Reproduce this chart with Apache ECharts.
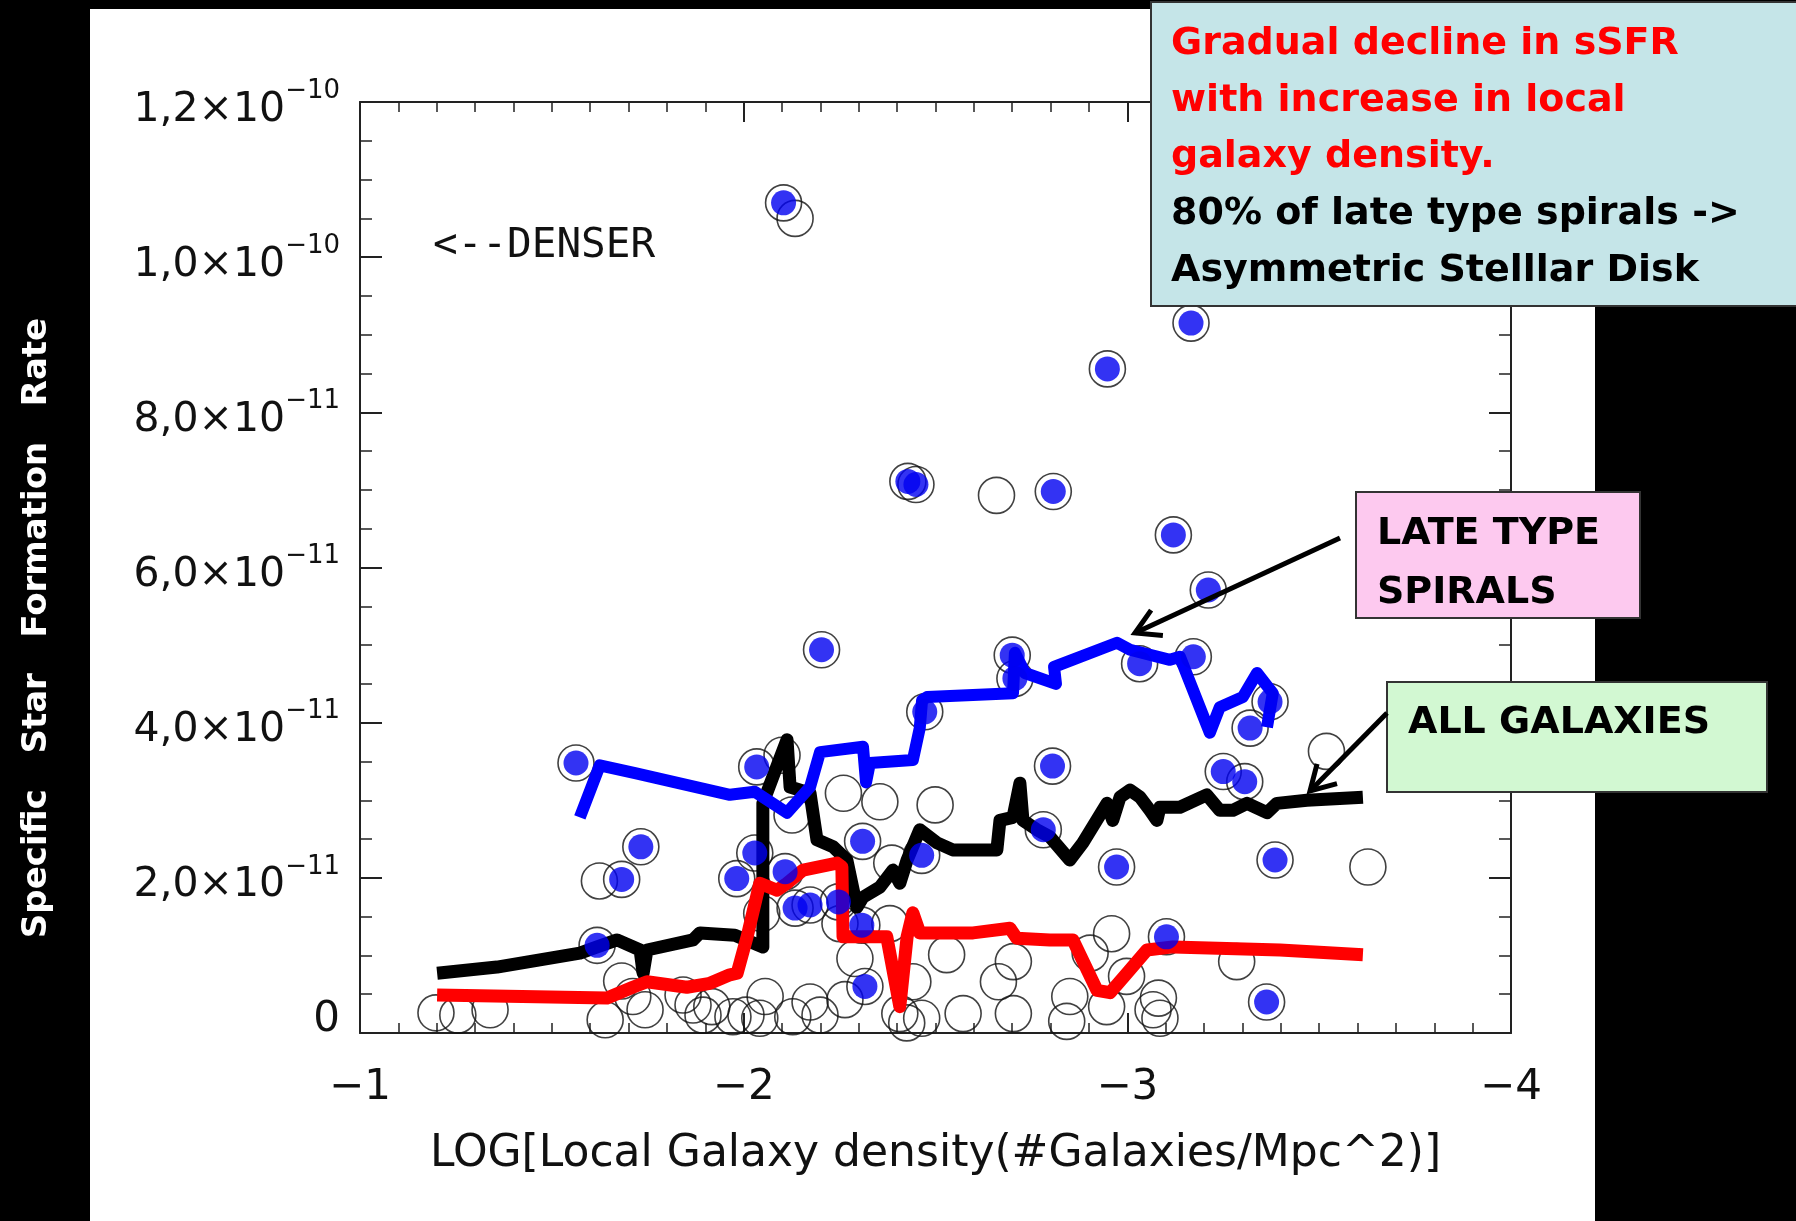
<!DOCTYPE html>
<html><head><meta charset="utf-8">
<script src="https://cdn.jsdelivr.net/npm/echarts@6.0.0/dist/echarts.min.js"></script>
<style>html,body{margin:0;padding:0;background:#000;}#c{width:1796px;height:1221px;}</style>
</head><body><div id="c"></div>
<script>
// x: LOG[local galaxy density], y: specific SFR in units of 1e-11
const xRange = [-4, -1];
const yRange = [0, 12];
const xTickLabels = ['−1', '−2', '−3', '−4'];

// open circles: all galaxies (not late type)
const allGalaxies = [
  [-2.134,10.50],[-2.659,6.93],[-3.519,3.63],[-3.627,2.14],[-2.100,3.58],[-2.126,2.81],
  [-2.260,3.09],[-2.355,2.98],[-2.499,2.94],[-1.624,1.96],[-2.386,2.19],[-2.047,1.54],
  [-2.381,1.41],[-2.251,1.41],[-2.290,0.96],[-2.529,1.01],[-2.703,0.92],[-2.664,0.66],
  [-2.441,0.66],[-2.056,0.47],[-2.173,0.40],[-2.264,0.43],[-1.972,0.21],[-2.042,0.19],
  [-2.128,0.21],[-2.199,0.23],[-2.407,0.25],[-2.425,0.13],[-2.464,0.19],[-2.572,0.25],
  [-2.703,0.25],[-2.959,1.28],[-3.285,0.92],[-2.903,1.03],[-2.998,0.73],[-2.850,0.47],
  [-2.946,0.34],[-3.081,0.45],[-3.067,0.30],[-2.842,0.15],[-3.085,0.19],[-1.198,0.26],
  [-1.255,0.23],[-1.339,0.30],[-1.682,0.67],[-1.711,0.47],[-1.639,0.17],[-1.743,0.30],
  [-1.868,0.36],[-1.917,0.34],[-1.842,0.49],[-1.894,0.23],[-2.006,0.23]
];
// filled blue: late type spirals
const lateSpirals = [
  [-2.104,10.70],[-2.948,8.56],[-3.166,9.15],[-2.428,7.11],[-2.449,7.07],[-2.807,6.98],
  [-3.120,6.42],[-3.211,5.71],[-2.203,4.94],[-2.700,4.87],[-2.707,4.57],[-3.032,4.76],
  [-3.172,4.85],[-3.372,4.27],[-3.320,3.93],[-2.472,4.14],[-1.563,3.48],[-2.034,3.43],
  [-2.805,3.44],[-3.250,3.37],[-3.306,3.24],[-1.732,2.40],[-2.310,2.47],[-2.781,2.62],
  [-1.682,1.98],[-2.029,2.32],[-1.982,1.99],[-2.108,2.08],[-2.972,2.14],[-3.385,2.23],
  [-2.464,2.29],[-2.134,1.61],[-2.173,1.65],[-2.247,1.69],[-2.308,1.39],[-1.618,1.13],
  [-3.102,1.24],[-2.316,0.60],[-3.363,0.40]
];
// running curves
const lateTrend = [
  [-1.573,2.78],[-1.625,3.45],[-1.717,3.35],[-1.964,3.07],[-2.029,3.11],[-2.113,2.84],
  [-2.173,3.17],[-2.199,3.62],[-2.311,3.69],[-2.319,3.23],[-2.329,3.48],[-2.441,3.52],
  [-2.459,3.93],[-2.465,4.29],[-2.478,4.33],[-2.702,4.38],[-2.707,4.90],[-2.733,4.64],
  [-2.814,4.50],[-2.809,4.72],[-2.973,5.03],[-3.007,4.94],[-3.111,4.81],[-3.137,4.85],
  [-3.215,3.87],[-3.241,4.20],[-3.301,4.33],[-3.338,4.64],[-3.379,4.38],[-3.364,3.94]
];
const allTrend = [
  [-1.201,0.77],[-1.357,0.85],[-1.573,1.03],[-1.618,1.11],[-1.670,1.20],[-1.730,1.07],
  [-1.738,0.77],[-1.748,1.07],[-1.868,1.20],[-1.886,1.29],[-1.977,1.26],[-2.050,1.11],
  [-2.050,2.96],[-2.076,3.30],[-2.113,3.78],[-2.121,3.17],[-2.173,3.09],[-2.191,2.49],
  [-2.233,2.40],[-2.269,2.23],[-2.295,1.62],[-2.311,1.75],[-2.355,1.88],[-2.389,2.10],
  [-2.407,1.93],[-2.426,2.23],[-2.459,2.62],[-2.504,2.45],[-2.545,2.36],[-2.660,2.36],
  [-2.668,2.74],[-2.702,2.78],[-2.720,3.22],[-2.728,2.74],[-2.764,2.62],[-2.798,2.53],
  [-2.850,2.23],[-2.884,2.45],[-2.947,2.96],[-2.962,2.74],[-2.981,3.04],[-3.007,3.13],
  [-3.033,3.04],[-3.059,2.87],[-3.077,2.74],[-3.085,2.91],[-3.137,2.91],[-3.207,3.07],
  [-3.241,2.87],[-3.275,2.87],[-3.312,2.96],[-3.364,2.84],[-3.390,2.96],[-3.468,3.00],
  [-3.614,3.04]
];
const redTrend = [
  [-1.201,0.49],[-1.644,0.45],[-1.711,0.59],[-1.748,0.66],[-1.852,0.59],[-1.912,0.64],
  [-1.964,0.75],[-1.983,0.77],[-2.009,1.24],[-2.042,1.93],[-2.087,1.84],[-2.113,1.93],
  [-2.155,2.10],[-2.243,2.19],[-2.256,2.14],[-2.259,1.24],[-2.373,1.24],[-2.407,0.34],
  [-2.426,1.24],[-2.441,1.55],[-2.459,1.29],[-2.598,1.29],[-2.694,1.35],[-2.712,1.22],
  [-2.798,1.20],[-2.858,1.20],[-2.921,0.55],[-2.955,0.52],[-2.999,0.77],[-3.051,1.07],
  [-3.119,1.11],[-3.398,1.07],[-3.614,1.01]
];

const FONT = 'DejaVu Sans';
const COMIC = 'DejaVu Sans';

function arrow(x1, y1, x2, y2, head) {
  const dx = x2 - x1, dy = y2 - y1, L = Math.hypot(dx, dy);
  const ux = dx / L, uy = dy / L, a = Math.PI / 6;
  const p1 = [x2 - head * (ux * Math.cos(a) - uy * Math.sin(a)), y2 - head * (uy * Math.cos(a) + ux * Math.sin(a))];
  const p2 = [x2 - head * (ux * Math.cos(a) + uy * Math.sin(a)), y2 - head * (uy * Math.cos(a) - ux * Math.sin(a))];
  return [
    {type:'line', z:120, shape:{x1, y1, x2, y2}, style:{stroke:'#000', lineWidth:5}},
    {type:'polyline', z:120, shape:{points:[p1, [x2, y2], p2]}, style:{stroke:'#000', lineWidth:5, fill:null}}
  ];
}
function txt(x, y, text, color, size) {
  return {type:'text', z:110, x, y, style:{text, fill:color, fontSize:size,
    fontFamily:COMIC, fontWeight:'bold', align:'left', verticalAlign:'middle'}};
}

const axisCommon = {
  axisLine:{show:true, onZero:false, lineStyle:{color:'#222', width:2}},
  splitLine:{show:false},
  minorSplitLine:{show:false}
};

const chart = echarts.init(document.getElementById('c'), null, {renderer:'canvas'});
chart.setOption({
  backgroundColor:'#000',
  animation:false,
  grid:{left:360, right:285, top:102, bottom:188, outerBoundsMode:'none', containLabel:false},
  xAxis:[
    Object.assign({type:'value', position:'bottom', min:xRange[0], max:xRange[1], interval:1, inverse:true,
      name:'LOG[Local Galaxy density(#Galaxies/Mpc^2)]', nameLocation:'middle', nameGap:100,
      nameTextStyle:{fontFamily:FONT, fontSize:44, color:'#111'},
      axisTick:{show:true, inside:true, length:20, lineStyle:{color:'#222', width:2}},
      minorTick:{show:true, splitNumber:10, length:10, lineStyle:{color:'#222', width:1.5}},
      axisLabel:{margin:34, fontFamily:FONT, fontSize:42, color:'#111',
        formatter:v => xTickLabels[Math.round(-v) - 1]}}, axisCommon),
    Object.assign({type:'value', position:'top', min:xRange[0], max:xRange[1], interval:1, inverse:true,
      axisTick:{show:true, inside:true, length:20, lineStyle:{color:'#222', width:2}},
      minorTick:{show:true, splitNumber:10, length:10, lineStyle:{color:'#222', width:1.5}},
      axisLabel:{show:false}}, axisCommon)
  ],
  yAxis:[
    Object.assign({type:'value', position:'left', min:yRange[0], max:yRange[1], interval:2,
      name:'Specific   Star   Formation   Rate', nameLocation:'middle', nameRotate:90, nameGap:306,
      nameTextStyle:{fontFamily:COMIC, fontWeight:'bold', fontSize:34, color:'#fff', padding:[0,121,0,0]},
      axisTick:{show:true, inside:true, length:22, lineStyle:{color:'#222', width:2}},
      minorTick:{show:true, splitNumber:4, length:12, lineStyle:{color:'#222', width:1.5}},
      axisLabel:{margin:20, padding:[16,0,0,0],
        formatter:v => {
          if (v === 0) return '{z|0}';
          const e = v >= 10 ? 10 : 11;
          const m = (e === 10 ? v / 10 : v).toFixed(1).replace('.', ',');
          return '{b|' + m + '×10}{s|−' + e + '}';
        },
        rich:{
          b:{fontFamily:FONT, fontSize:41, color:'#111', lineHeight:64, verticalAlign:'middle'},
          s:{fontFamily:FONT, fontSize:26, color:'#111', lineHeight:28, verticalAlign:'top'},
          z:{fontFamily:FONT, fontSize:42, color:'#111', lineHeight:64, verticalAlign:'middle', padding:[0,0,42,0]}
        }}}, axisCommon),
    Object.assign({type:'value', position:'right', min:yRange[0], max:yRange[1], interval:2,
      axisTick:{show:true, inside:true, length:22, lineStyle:{color:'#222', width:2}},
      minorTick:{show:true, splitNumber:4, length:12, lineStyle:{color:'#222', width:1.5}},
      axisLabel:{show:false}}, axisCommon)
  ],
  graphic:{elements:[
    {type:'rect', z:-5, shape:{x:90, y:9, width:1505, height:1212}, style:{fill:'#fff'}},
    {type:'text', z:50, x:433, y:246, style:{text:'<--DENSER', fill:'#111', fontSize:41,
      fontFamily:'DejaVu Sans Mono', align:'left', verticalAlign:'middle'}},
    {type:'rect', z:100, shape:{x:1151, y:2, width:660, height:304}, style:{fill:'#c5e5e8', stroke:'#333', lineWidth:2}},
    txt(1171, 44, 'Gradual decline in sSFR', '#ff0000', 38),
    txt(1171, 101, 'with increase in local', '#ff0000', 38),
    txt(1171, 157, 'galaxy density.', '#ff0000', 38),
    txt(1171, 214, '80% of late type spirals ->', '#000', 38),
    txt(1171, 271, 'Asymmetric Stelllar Disk', '#000', 38),
    {type:'rect', z:100, shape:{x:1356, y:492, width:284, height:126}, style:{fill:'#fdc9ef', stroke:'#333', lineWidth:2}},
    txt(1377, 534, 'LATE TYPE', '#000', 38),
    txt(1377, 593, 'SPIRALS', '#000', 38),
    {type:'rect', z:100, shape:{x:1387, y:682, width:380, height:110}, style:{fill:'#d2f8d2', stroke:'#333', lineWidth:2}},
    txt(1408, 723, 'ALL GALAXIES', '#000', 38),
    ...arrow(1340, 538, 1135, 633, 28),
    ...arrow(1387, 713, 1310, 791, 28)
  ]},
  series:[
    {name:'All galaxies', type:'scatter', z:2, symbol:'circle', symbolSize:36,
      data:allGalaxies.concat(lateSpirals),
      itemStyle:{color:'rgba(0,0,0,0)', borderColor:'#111', borderWidth:1.6}},
    {name:'All galaxies trend', type:'line', z:3, showSymbol:false, symbol:'none', data:allTrend,
      lineStyle:{color:'#000', width:13, join:'round'}},
    {name:'Red trend', type:'line', z:3, showSymbol:false, symbol:'none', data:redTrend,
      lineStyle:{color:'#ff0000', width:13, join:'round'}},
    {name:'Late type trend', type:'line', z:3, showSymbol:false, symbol:'none', data:lateTrend,
      lineStyle:{color:'#0000ff', width:12, join:'round'}},
    {name:'Late type spirals', type:'scatter', z:4, symbol:'circle', symbolSize:25,
      data:lateSpirals, itemStyle:{color:'#0000f0'}}
  ]
});
</script></body></html>
